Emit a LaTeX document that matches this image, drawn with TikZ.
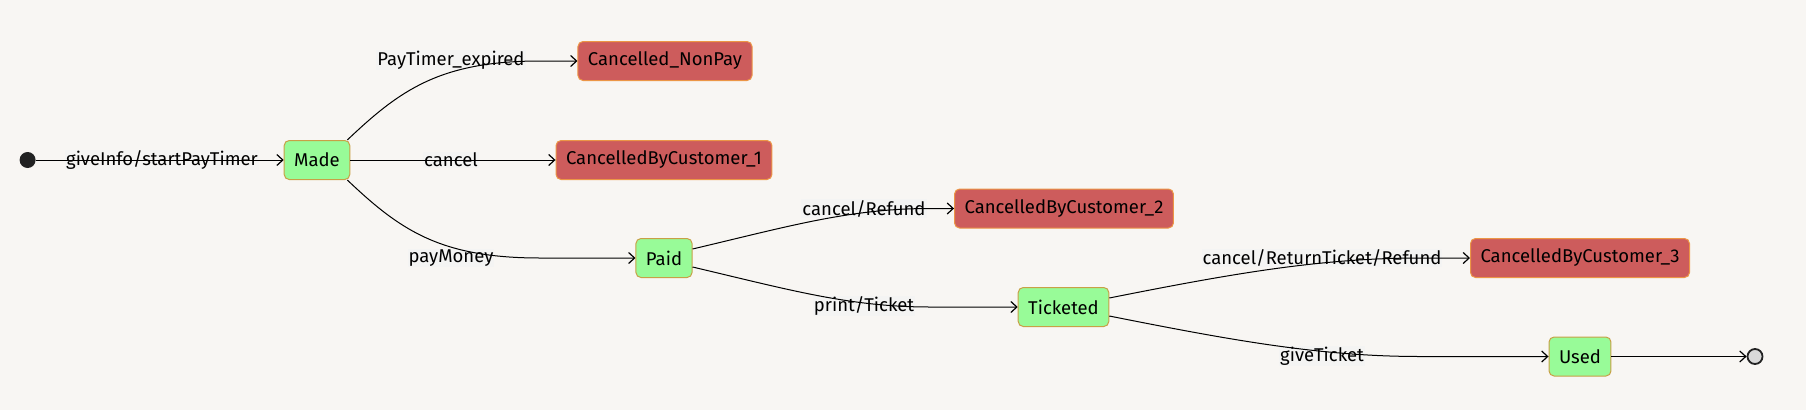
\documentclass[tikz,border=0pt]{standalone}
\usepackage{fontspec}
\setmainfont{Fira Sans}
\usepackage{tikz}
\usetikzlibrary{arrows.meta}
\definecolor{bgcol}{RGB}{248,246,243}
\definecolor{lblbg}{RGB}{244,244,243}
\definecolor{okfill}{RGB}{152,251,152}
\definecolor{okline}{RGB}{200,160,70}
\definecolor{badfill}{RGB}{205,92,92}
\definecolor{badline}{RGB}{236,150,70}
\definecolor{dotcol}{RGB}{34,34,34}

\tikzset{
  state/.style={draw=okline, fill=okfill, rounded corners=5pt, line width=1pt,
    minimum height=39pt, inner xsep=10pt, font=\fontsize{18.5}{20}\selectfont},
  cancelled/.style={state, draw=badline, fill=badfill},
  trlabel/.style={fill=lblbg, inner sep=1pt, font=\fontsize{18.5}{20}\selectfont},
  tr/.style={draw=black, line width=1pt, -{Straight Barb[length=6pt,width=11pt,line width=1.2pt]}}
}

\begin{document}
\begin{tikzpicture}[x=1pt, y=-1pt]
  \useasboundingbox[fill=bgcol] (0,0) rectangle (1806,410);

  % states
  \fill[dotcol] (27.6,160) circle (8pt) coordinate (start);
  \node[state] (made) at (317,160) {Made};
  \node[cancelled] (nonpay) at (665,61) {Cancelled\_NonPay};
  \node[cancelled] (cbc1) at (664,160) {CancelledByCustomer\_1};
  \node[state] (paid) at (664,258) {Paid};
  \node[cancelled] (cbc2) at (1064,208.5) {CancelledByCustomer\_2};
  \node[state] (ticketed) at (1063.5,307) {Ticketed};
  \node[cancelled] (cbc3) at (1580,258) {CancelledByCustomer\_3};
  \node[state] (used) at (1580,356.5) {Used};
  \node[circle, draw=dotcol, fill=black!15, line width=1.8pt, minimum size=15pt, inner sep=0pt] (end) at (1755,356.5) {};

  % transition labels
  \node[trlabel] (l1) at (162,160) {giveInfo/startPayTimer};
  \node[trlabel] (l2) at (451,60) {PayTimer\_expired};
  \node[trlabel] (l3) at (451,160) {cancel};
  \node[trlabel] (l4) at (451,258) {payMoney};
  \node[trlabel] (l5) at (864,208.5) {cancel/Refund};
  \node[trlabel] (l6) at (864,306) {print/Ticket};
  \node[trlabel] (l7) at (1322,258) {cancel/ReturnTicket/Refund};
  \node[trlabel] (l8) at (1322,356) {giveTicket};

  % transitions
  \draw[tr] ([xshift=8pt]start) -- (made);
  \draw[tr] ([xshift=-3pt]made.north east) .. controls (400,90) and (440,61) .. (540,61) -- (nonpay);
  \draw[tr] (made) -- (cbc1);
  \draw[tr] ([xshift=-3pt]made.south east) .. controls (400,230) and (440,258) .. (540,258) -- (paid);
  \draw[tr] ([yshift=9pt]paid.east) .. controls (790,226) and (850,208.5) .. (930,208.5) -- (cbc2);
  \draw[tr] ([yshift=-9pt]paid.east) .. controls (790,290) and (850,307) .. (930,307) -- (ticketed);
  \draw[tr] ([yshift=9pt]ticketed.east) .. controls (1230,274) and (1320,258) .. (1420,258) -- (cbc3);
  \draw[tr] ([yshift=-9pt]ticketed.east) .. controls (1230,340) and (1320,356.5) .. (1420,356.5) -- (used);
  \draw[tr] (used) -- (end);
\end{tikzpicture}
\end{document}
